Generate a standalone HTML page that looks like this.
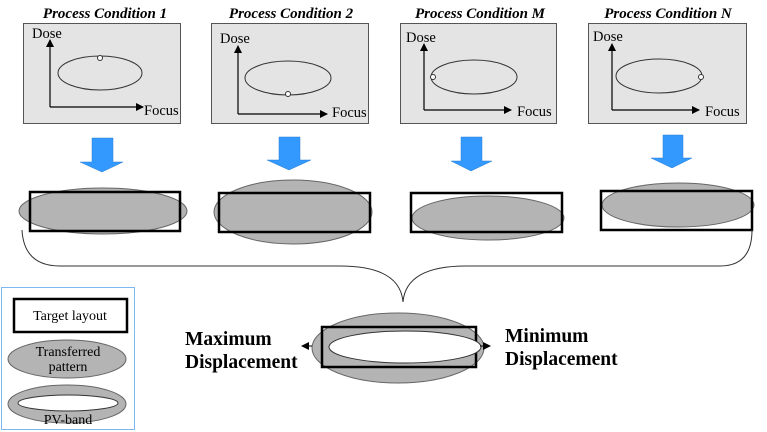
<!DOCTYPE html>
<html><head><style>
html,body{margin:0;padding:0;background:#fff;width:767px;height:432px;overflow:hidden}
svg{display:block}
text{font-family:"Liberation Serif",serif}
</style></head><body>
<svg width="767" height="432" viewBox="0 0 767 432">
<defs>
<marker id="ah" markerWidth="8" markerHeight="8" refX="7" refY="4" orient="auto" markerUnits="userSpaceOnUse"><path d="M0,0 L8,4 L0,8 Z" fill="#000"/></marker>
</defs>
<g font-weight="bold" font-style="italic" font-size="15" text-anchor="middle">
<text x="105" y="18">Process Condition 1</text>
<text x="291" y="18">Process Condition 2</text>
<text x="480" y="18">Process Condition M</text>
<text x="668" y="18">Process Condition N</text>
</g>
<g fill="#e4e4e4" stroke="#555" stroke-width="1">
<rect x="23.5" y="23.5" width="157" height="100"/>
<rect x="211.5" y="23.5" width="157" height="100"/>
<rect x="400.5" y="23.5" width="156" height="100"/>
<rect x="588.5" y="23.5" width="158" height="100"/>
</g>
<g stroke="#000" stroke-width="1.2" fill="none">
<path d="M50,107 V40" marker-end="url(#ah)"/>
<path d="M50,107 H143" marker-end="url(#ah)"/>
<path d="M238,114 V46" marker-end="url(#ah)"/>
<path d="M238,114 H327" marker-end="url(#ah)"/>
<path d="M424,110 V44" marker-end="url(#ah)"/>
<path d="M424,110 H511" marker-end="url(#ah)"/>
<path d="M612,110 V44" marker-end="url(#ah)"/>
<path d="M612,110 H699" marker-end="url(#ah)"/>
</g>
<g stroke="#333" fill="none" stroke-width="1">
<ellipse cx="100" cy="73" rx="42" ry="17"/><circle cx="100" cy="58" r="2.5" fill="#fff"/>
<ellipse cx="288" cy="78" rx="43" ry="17"/><circle cx="288" cy="94" r="2.5" fill="#fff"/>
<ellipse cx="474" cy="77" rx="43" ry="17"/><circle cx="433" cy="77" r="2.5" fill="#fff"/>
<ellipse cx="659" cy="76" rx="43" ry="17"/><circle cx="701" cy="77" r="2.5" fill="#fff"/>
</g>
<g font-size="14.5">
<text x="32" y="38">Dose</text><text x="144" y="115">Focus</text>
<text x="220" y="43">Dose</text><text x="332" y="117">Focus</text>
<text x="406" y="42">Dose</text><text x="517" y="116">Focus</text>
<text x="593" y="41">Dose</text><text x="705" y="116">Focus</text>
</g>
<g fill="#3399ff" stroke="#2a7fd4" stroke-width="0.5">
<path d="M92,138 H113 V162 H123 L102,172 L80,162 H92 Z"/>
<path d="M279,137 H300 V160 H311 L289,170 L267,160 H279 Z"/>
<path d="M461,137 H482 V161 H492 L471,171 L451,161 H461 Z"/>
<path d="M663,135 H683 V158 H692 L672,168 L651,158 H663 Z"/>
</g>
<g fill="#b4b4b4" stroke="#666" stroke-width="1">
<ellipse cx="103" cy="211" rx="84" ry="23"/>
<ellipse cx="293" cy="212" rx="79" ry="32"/>
<ellipse cx="488" cy="218" rx="76" ry="22"/>
<ellipse cx="678" cy="205" rx="76" ry="22"/>
</g>
<g fill="none" stroke="#000" stroke-width="2.5">
<rect x="30" y="192" width="150" height="39"/>
<rect x="219" y="193" width="151" height="39"/>
<rect x="411" y="193" width="151" height="39"/>
<rect x="601" y="191" width="151" height="39"/>
</g>
<path d="M22,230 Q24,266 60,266 H340 Q400,266 403,302 Q406,266 466,266 H720 Q752,266 752,230" fill="none" stroke="#333" stroke-width="1"/>
<ellipse cx="398" cy="348" rx="86" ry="35" fill="#b4b4b4" stroke="#666"/>
<rect x="322" y="327" width="154" height="40" fill="none" stroke="#000" stroke-width="2.5"/>
<ellipse cx="405" cy="347" rx="76" ry="16" fill="#fff" stroke="#333"/>
<path d="M312,346 H302" stroke="#000" marker-end="url(#ah)"/>
<path d="M480,346 H490" stroke="#000" marker-end="url(#ah)"/>
<g font-size="19.5" font-weight="bold">
<text x="185" y="345">Maximum</text><text x="185" y="368">Displacement</text>
<text x="505" y="342">Minimum</text><text x="505" y="365">Displacement</text>
</g>
<rect x="1.5" y="287.5" width="133" height="142" fill="#fff" stroke="#7fb8f0"/>
<rect x="14" y="299" width="113" height="33" fill="#fff" stroke="#000" stroke-width="2.5"/>
<text x="70" y="320" font-size="14" text-anchor="middle">Target layout</text>
<ellipse cx="67" cy="359" rx="59" ry="19" fill="#b4b4b4" stroke="#666"/>
<text x="68" y="356" font-size="14" text-anchor="middle">Transferred</text>
<text x="68" y="371" font-size="14" text-anchor="middle">pattern</text>
<ellipse cx="67" cy="404" rx="59" ry="19" fill="#b4b4b4" stroke="#666"/>
<ellipse cx="68" cy="403" rx="50" ry="8" fill="#fff" stroke="#333"/>
<text x="68" y="424" font-size="14" text-anchor="middle">PV-band</text>
</svg>
</body></html>
